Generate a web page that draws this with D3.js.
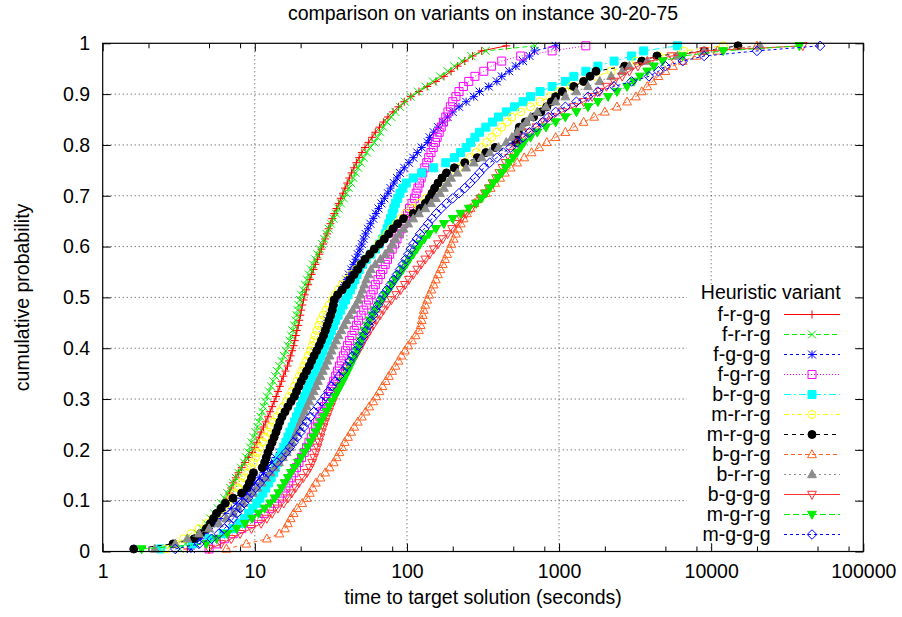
<!DOCTYPE html>
<html>
<head>
<meta charset="utf-8">
<script src="https://cdnjs.cloudflare.com/ajax/libs/d3/7.8.5/d3.min.js"></script>
<style>
  body { margin: 0; background: #fff; }
  text { font-family: "Liberation Sans", Arial, Helvetica, sans-serif; font-size: 19.5px; fill: #000; }
</style>
</head>
<body>
<div id="chart"></div>
<script>
// run times to target (seconds), 100 sorted readings per variant
var variants = ["f-r-g-g", "f-r-r-g", "f-g-g-g", "f-g-r-g", "b-r-g-g", "m-r-r-g",
  "m-r-g-g", "b-g-r-g", "b-r-r-g", "b-g-g-g", "m-g-r-g", "m-g-g-g"];

var tFRGG = [3.6, 3.9, 4.2, 4.5, 4.8, 5.1, 5.4, 5.7, 6.0, 6.3,
  6.6, 6.8, 7.0, 7.2, 7.5, 7.8, 8.2, 8.6, 9.1, 9.6,
  10.0, 10.3, 10.7, 11.0, 11.4, 11.8, 12.2, 12.6, 13.0, 13.4,
  13.8, 14.2, 14.6, 15.0, 15.4, 15.9, 16.4, 16.8, 17.2, 17.6,
  18.0, 18.3, 18.6, 18.9, 19.3, 19.6, 19.9, 20.2, 20.5, 20.9,
  21.3, 21.8, 22.4, 23.0, 23.6, 24.3, 25.0, 25.8, 26.6, 27.4,
  28.2, 29.0, 29.8, 30.6, 31.4, 32.3, 33.3, 34.4, 35.6, 36.8,
  38.0, 39.2, 40.5, 41.8, 43.2, 44.8, 46.5, 48.5, 50.5, 53.0,
  56, 59, 62, 66, 70, 75, 81, 88, 96, 106,
  120, 136, 155, 175, 195, 215, 240, 270, 310, 450];

var tFRRG = [3.2, 3.5, 3.9, 4.2, 4.5, 4.8, 5.1, 5.4, 5.7, 6.0,
  6.3, 6.6, 6.9, 7.2, 7.5, 7.8, 8.1, 8.5, 8.8, 9.1,
  9.3, 9.5, 9.8, 10.1, 10.4, 10.6, 10.9, 11.2, 11.4, 11.7,
  12.0, 12.4, 12.8, 13.2, 13.6, 14.0, 14.5, 15.0, 15.5, 16.0,
  16.5, 16.9, 17.3, 17.7, 18.1, 18.5, 18.8, 19.1, 19.4, 19.8,
  20.2, 20.8, 21.4, 22.0, 22.7, 23.4, 24.1, 24.9, 25.8, 26.7,
  27.6, 28.6, 29.6, 30.6, 31.7, 32.9, 34.1, 35.4, 36.8, 38.4,
  40.0, 41.5, 43.0, 44.5, 46.0, 47.8, 49.8, 52.0, 54.5, 57.5,
  61, 64, 67, 70, 74, 79, 84, 90, 97, 106,
  118, 132, 148, 165, 185, 205, 230, 265, 330, 695];

var tFGGG = [3.8, 4.1, 4.4, 4.7, 5.0, 5.4, 5.9, 6.4, 7.0, 7.6,
  8.2, 8.8, 9.4, 10.0, 10.7, 11.4, 12.1, 12.9, 13.7, 14.6,
  15.5, 16.3, 17.0, 17.7, 18.3, 18.9, 19.5, 20.0, 20.5, 21.0,
  21.5, 22.0, 22.5, 23.0, 23.5, 24.0, 24.6, 25.2, 25.8, 26.4,
  27.0, 27.6, 28.2, 28.8, 29.4, 30.0, 31.0, 32.0, 33.2, 34.5,
  35.5, 37.0, 38.5, 40.0, 41.5, 43.0, 44.5, 46.0, 47.5, 49.0,
  50.5, 52.0, 53.5, 55.5, 57.5, 60, 62.5, 65, 68, 71,
  75, 78, 82, 86, 90, 96, 103, 110, 117, 125,
  137, 141, 150, 160, 172, 185, 200, 220, 245, 275,
  300, 345, 390, 420, 470, 520, 580, 640, 690, 950];

var tFGRG = [5.0, 5.6, 6.3, 7.2, 8.2, 9.4, 10.5, 11.5, 12.5, 13.5,
  14.5, 15.3, 16.0, 16.7, 17.4, 18.1, 18.8, 19.5, 20.3, 21.1,
  21.9, 22.7, 23.5, 24.3, 25.1, 25.9, 26.8, 27.7, 28.6, 29.6,
  30.5, 31.4, 32.2, 33.0, 34.0, 35.0, 36.0, 37.0, 38.2, 39.4,
  40.6, 42.0, 43.5, 45.0, 46.5, 48.0, 50.0, 52.0, 54.0, 56.0,
  58, 60, 62, 64.5, 67, 69.5, 72, 74.5, 77, 80,
  83, 86, 89, 92, 95, 98, 101, 104, 108, 112,
  115, 118, 121, 124, 127, 131, 135, 139, 144, 149,
  154, 158, 163, 168, 174, 180, 186, 193, 200, 210,
  220, 235, 255, 280, 320, 360, 420, 560, 900, 1500];

var tBRGG = [2.4, 3.9, 5.0, 6.2, 7.2, 7.9, 8.5, 9.1, 9.7, 10.3,
  10.8, 11.3, 11.8, 12.3, 12.8, 13.3, 13.7, 14.1, 14.5, 15.0,
  15.5, 16.0, 16.5, 17.0, 17.6, 18.2, 18.8, 19.4, 20.0, 20.6,
  21.2, 21.9, 22.6, 23.3, 24.1, 24.9, 25.7, 26.5, 27.3, 28.1,
  29.0, 30.0, 31.0, 32.0, 33.0, 34.0, 35.3, 36.7, 38.0, 39.5,
  41, 42.5, 44, 45.5, 47, 48.5, 51, 54, 58, 62,
  66, 69, 72, 74, 76, 78, 80, 82, 84, 87,
  90, 94, 99, 110, 125, 150, 180, 205, 225, 245,
  262, 280, 300, 330, 365, 400, 450, 510, 580, 650,
  750, 900, 1100, 1250, 1500, 1800, 2300, 3000, 3600, 6000];

var tMRRG = [2.6, 3.0, 3.4, 3.8, 4.3, 4.8, 5.3, 5.8, 6.2, 6.6,
  7.0, 7.4, 7.8, 8.2, 8.6, 9.0, 9.4, 9.8, 10.1, 10.4,
  10.7, 11.2, 11.7, 12.2, 12.7, 13.3, 14.0, 14.7, 15.4, 16.1,
  16.8, 17.5, 18.2, 18.9, 19.6, 20.3, 21.0, 21.7, 22.4, 23.1,
  23.8, 24.4, 25.0, 25.7, 26.4, 27.2, 28.2, 29.4, 30.8, 32.3,
  33.8, 35.5, 37.5, 40, 43, 46, 49.5, 53, 57, 61,
  65, 69, 74, 79, 85, 91, 98, 108, 120, 133,
  146, 158, 170, 185, 200, 218, 238, 260, 285, 310,
  335, 360, 390, 420, 455, 490, 560, 650, 750, 870,
  1000, 1200, 1450, 1750, 2200, 2700, 3200, 4500, 6600, 12000];

var tMRGG = [1.6, 2.9, 4.0, 4.4, 4.8, 5.1, 5.35, 5.6, 6.0, 6.4,
  7.2, 8.2, 8.9, 9.2, 9.5, 9.8, 11.2, 11.6, 11.9, 12.2,
  12.6, 13.0, 13.4, 13.8, 14.2, 14.6, 15.1, 15.8, 16.5, 17.3,
  18.2, 18.8, 19.5, 20.2, 21.0, 21.9, 22.8, 23.6, 24.5, 25.5,
  26.5, 27.4, 28.3, 29.1, 29.9, 30.7, 31.5, 32.3, 32.8, 33.2,
  35.0, 37.5, 40.0, 42.5, 45.0, 47.5, 50.0, 53.0, 57.0, 61.0,
  66, 71, 76, 81, 87, 95, 110, 122, 132, 140,
  146, 152, 160, 170, 182, 205, 240, 290, 330, 380,
  520, 530, 540, 548, 600, 680, 760, 830, 890, 950,
  1050, 1250, 1450, 1600, 1750, 2700, 3500, 4400, 9000, 15000];

var tBGRG = [6.5, 8.8, 12.0, 14.5, 15.8, 16.5, 17.2, 18.0, 19.0, 20.5,
  22.0, 23.0, 24.0, 25.2, 27.0, 29.0, 31.0, 33.0, 34.5, 36.0,
  37.5, 39.0, 41.0, 43.0, 45.0, 47.5, 50.5, 53.5, 56.5, 60.0,
  63, 66, 69, 72.5, 76, 80, 84, 88, 92, 97,
  102, 108, 114, 120, 123, 125, 127, 129, 132, 136,
  140, 145, 150, 155, 160, 166, 172, 178, 184, 190,
  196, 203, 210, 218, 226, 236, 248, 262, 278, 296,
  330, 355, 380, 410, 440, 480, 530, 590, 660, 740,
  830, 950, 1100, 1250, 1450, 1700, 2000, 2400, 2800, 3200,
  3500, 3800, 4100, 4500, 5000, 5600, 6500, 8000, 11000, 20000];

var tBRRG = [2.2, 3.0, 3.6, 4.3, 5.0, 5.8, 6.5, 7.2, 7.8, 8.4,
  9.0, 9.7, 10.4, 11.1, 11.9, 12.7, 13.5, 14.4, 15.3, 16.2,
  17.0, 17.6, 18.2, 18.8, 19.4, 20.0, 20.6, 21.3, 22.0, 22.8,
  23.6, 24.4, 25.2, 26.0, 27.0, 28.0, 29.0, 30.0, 31.0, 32.0,
  33.0, 34.2, 35.5, 37.0, 38.5, 40.0, 42.0, 44.0, 46.0, 48.0,
  49.5, 51, 52.5, 54, 56, 58, 62, 67, 72, 77,
  80, 84, 89, 95, 102, 110, 120, 132, 144, 155,
  165, 175, 185, 195, 215, 245, 275, 310, 350, 400,
  450, 490, 530, 570, 610, 650, 720, 820, 950, 1100,
  1300, 1550, 1850, 2200, 2600, 2900, 3800, 6000, 9000, 21000];

var tBGGG = [5.0, 6.0, 7.0, 8.0, 9.5, 11.0, 12.0, 13.0, 14.2, 15.5,
  16.5, 17.5, 18.5, 19.5, 20.8, 22.0, 23.0, 23.8, 24.5, 25.2,
  25.8, 26.4, 27.0, 27.6, 28.3, 29.0, 29.8, 30.7, 31.6, 32.6,
  33.6, 34.8, 36.0, 37.2, 38.5, 40.0, 41.8, 43.8, 46.0, 48.0,
  50, 52, 54.5, 57, 60, 63, 66.5, 70, 74, 79,
  85, 91, 97, 103, 110, 117, 124, 132, 141, 150,
  160, 172, 185, 198, 212, 228, 245, 265, 285, 305,
  325, 345, 365, 385, 405, 425, 445, 470, 495, 520,
  540, 580, 640, 710, 800, 900, 1050, 1250, 1450, 1650,
  1850, 2050, 2300, 2600, 2900, 3300, 4000, 5500, 9000, 40000];

var tMGRG = [1.8, 4.8, 5.6, 6.6, 7.6, 8.6, 9.6, 10.6, 11.6, 12.6,
  13.5, 14.3, 15.0, 15.7, 16.5, 17.3, 18.2, 19.2, 20.2, 21.2,
  22.2, 23.2, 24.2, 25.2, 26.2, 27.2, 28.3, 29.5, 30.7, 32.0,
  33.5, 35.0, 36.5, 38.0, 39.5, 41.0, 42.5, 44.0, 45.5, 47.0,
  48.5, 50, 51.5, 53, 55, 57, 59.5, 62, 65, 68.5,
  72, 76, 80, 84, 89, 94, 99, 104, 110, 116,
  122, 130, 140, 155, 175, 200, 225, 255, 285, 310,
  330, 350, 370, 395, 420, 445, 470, 500, 530, 560,
  590, 650, 720, 820, 950, 1100, 1300, 1550, 1800, 2100,
  2400, 2800, 3100, 3400, 3800, 4200, 4800, 6500, 12000, 38000];

var tMGGG = [3.0, 4.3, 5.2, 5.8, 6.3, 6.8, 7.2, 7.6, 8.0, 8.5,
  9.0, 9.5, 10.1, 10.8, 11.5, 12.2, 13.0, 14.0, 15.0, 16.0,
  17.0, 18.0, 19.0, 20.0, 21.0, 22.0, 23.2, 24.5, 26.0, 27.5,
  29.0, 30.5, 32.0, 33.8, 35.8, 38.0, 40.0, 42.0, 44.0, 46.0,
  48.0, 50.0, 52.0, 54.0, 56.0, 58.0, 60.0, 62.0, 64.5, 67.0,
  70, 74, 78, 82, 86, 90, 94, 98, 102, 106,
  110, 116, 122, 130, 138, 146, 156, 168, 182, 200,
  220, 240, 260, 280, 300, 320, 350, 390, 430, 480,
  530, 580, 640, 710, 780, 850, 950, 1100, 1300, 1550,
  1800, 2300, 3000, 3900, 4500, 5000, 6500, 9000, 20000, 52000];

var runs = [tFRGG, tFRRG, tFGGG, tFGRG, tBRGG, tMRRG, tMRGG, tBGRG, tBRRG, tBGGG, tMGRG, tMGGG];

var xTickValues = [1, 10, 100, 1000, 10000, 100000];
var yTickValues = [0, 0.1, 0.2, 0.3, 0.4, 0.5, 0.6, 0.7, 0.8, 0.9, 1];

var titleText = "comparison on variants on instance 30-20-75";
var xLabel = "time to target solution (seconds)";
var yLabel = "cumulative probability";
var keyTitle = "Heuristic variant";

// line / point style of each variant (gnuplot look)
var styles = [
  { color: "#ff0000", dash: null, mark: "plus" },
  { color: "#00ee00", dash: "5,3", mark: "cross" },
  { color: "#0000ff", dash: "3,3", mark: "star" },
  { color: "#ff00ff", dash: "1,2", mark: "square" },
  { color: "#00ffff", dash: "7,3,2,3", mark: "square", fill: true },
  { color: "#ffff00", dash: "5,3,2,3", mark: "circle" },
  { color: "#000000", dash: "4,4", mark: "circle", fill: true },
  { color: "#ff6020", dash: "4,3", mark: "triUp" },
  { color: "#8c8c8c", dash: "2,3", mark: "triUp", fill: true },
  { color: "#ff3030", dash: null, mark: "triDown" },
  { color: "#00ee00", dash: "6,3", mark: "triDown", fill: true },
  { color: "#0000ff", dash: "3,3", mark: "diamond" }
];

var svgWidth = 902;
var svgHeight = 617;

var margin = {
  top: 43.3,
  right: 38.7,
  bottom: 65.5,
  left: 102.7
};

var width = svgWidth - margin.left - margin.right;
var height = svgHeight - margin.top - margin.bottom;

var svg = d3.select("#chart")
  .append("svg")
  .attr("width", svgWidth)
  .attr("height", svgHeight);

svg.append("rect")
  .attr("width", svgWidth)
  .attr("height", svgHeight)
  .attr("fill", "#fff");

var chartGroup = svg.append("g")
  .attr("transform", `translate(${margin.left}, ${margin.top})`);

var xLogScale = d3.scaleLog()
  .domain([1, 100000])
  .range([0, width]);

var yLinearScale = d3.scaleLinear()
  .domain([0, 1])
  .range([height, 0]);

// minor tics sit at 2, 5 and 8 of each decade
var xMinor = [];
xTickValues.slice(0, -1).forEach(function(d) {
  [2, 5, 8].forEach(function(m) { xMinor.push(d * m); });
});

function symbolPath(kind, h) {
  switch (kind) {
    case "plus":
      return `M${-h},0H${h}M0,${-h}V${h}`;
    case "cross":
      return `M${-h},${-h}L${h},${h}M${-h},${h}L${h},${-h}`;
    case "star":
      return `M${-h},0H${h}M0,${-h}V${h}M${-h},${-h}L${h},${h}M${-h},${h}L${h},${-h}`;
    case "square":
      return `M${-h},${-h}H${h}V${h}H${-h}Z`;
    case "circle":
      return `M${-h},0A${h},${h} 0 1,0 ${h},0A${h},${h} 0 1,0 ${-h},0Z`;
    case "triUp":
      return `M0,${-h * 1.2}L${h * 1.1},${h * 0.8}L${-h * 1.1},${h * 0.8}Z`;
    case "triDown":
      return `M0,${h * 1.2}L${h * 1.1},${-h * 0.8}L${-h * 1.1},${-h * 0.8}Z`;
    case "diamond":
      return `M0,${-h * 1.2}L${h * 1.2},0L0,${h * 1.2}L${-h * 1.2},0Z`;
  }
}

// grid
var grid = chartGroup.append("g")
  .attr("stroke", "#444")
  .attr("stroke-width", 1)
  .attr("stroke-dasharray", "1,3");

grid.selectAll("line.gx")
  .data(xTickValues.slice(1, -1))
  .enter()
  .append("line")
  .attr("x1", d => xLogScale(d))
  .attr("x2", d => xLogScale(d))
  .attr("y1", 0)
  .attr("y2", height);

grid.selectAll("line.gy")
  .data(yTickValues.slice(1, -1))
  .enter()
  .append("line")
  .attr("x1", 0)
  .attr("x2", width)
  .attr("y1", d => yLinearScale(d))
  .attr("y2", d => yLinearScale(d));

// key background
var keyLeft = 687 - margin.left;
chartGroup.append("rect")
  .attr("x", keyLeft)
  .attr("y", 284 - margin.top)
  .attr("width", width - keyLeft - 8)
  .attr("height", 259)
  .attr("fill", "#fff");

// axes
function cleanAxis(g) {
  g.select(".domain").remove();
  g.selectAll("line").attr("stroke", "#000");
}

chartGroup.append("g")
  .attr("transform", `translate(0, ${height})`)
  .call(d3.axisBottom(xLogScale).tickValues(xTickValues).tickSize(-8).tickPadding(13).tickFormat(d3.format("d")))
  .call(cleanAxis);

chartGroup.append("g")
  .attr("transform", `translate(0, ${height})`)
  .call(d3.axisBottom(xLogScale).tickValues(xMinor).tickSize(-5).tickFormat(""))
  .call(cleanAxis);

chartGroup.append("g")
  .call(d3.axisTop(xLogScale).tickValues(xTickValues).tickSize(-8).tickFormat(""))
  .call(cleanAxis);

chartGroup.append("g")
  .call(d3.axisTop(xLogScale).tickValues(xMinor).tickSize(-5).tickFormat(""))
  .call(cleanAxis);

chartGroup.append("g")
  .call(d3.axisLeft(yLinearScale).tickValues(yTickValues).tickSize(-8).tickPadding(12.5)
    .tickFormat(d => String(+d.toFixed(1))))
  .call(cleanAxis);

chartGroup.append("g")
  .attr("transform", `translate(${width}, 0)`)
  .call(d3.axisRight(yLinearScale).tickValues(yTickValues).tickSize(-8).tickFormat(""))
  .call(cleanAxis);

// series
var line = d3.line()
  .x(d => xLogScale(d.t))
  .y(d => yLinearScale(d.p));

runs.forEach(function(times, k) {
  var st = styles[k];
  var n = times.length;
  var pts = times.map(function(t, i) {
    return { t: t, p: (i + 0.5) / n };
  });

  var g = chartGroup.append("g").attr("class", "series");

  g.append("path")
    .datum(pts)
    .attr("d", line)
    .attr("fill", "none")
    .attr("stroke", st.color)
    .attr("stroke-width", 1)
    .attr("stroke-dasharray", st.dash);

  g.selectAll("path.pt")
    .data(pts)
    .enter()
    .append("path")
    .attr("class", "pt")
    .attr("transform", d => `translate(${xLogScale(d.t)}, ${yLinearScale(d.p)})`)
    .attr("d", symbolPath(st.mark, 4))
    .attr("fill", st.fill ? st.color : "none")
    .attr("stroke", st.color)
    .attr("stroke-width", 1);
});

// border
chartGroup.append("rect")
  .attr("width", width)
  .attr("height", height)
  .attr("fill", "none")
  .attr("stroke", "#000")
  .attr("stroke-width", 1.2);

// key
var keyTextX = 770.7 - margin.left;
var keyLineX1 = 784 - margin.left;
var keyLineX2 = 840 - margin.left;
var keyMarkX = 812 - margin.left;

chartGroup.append("text")
  .attr("x", keyTextX)
  .attr("y", 299 - margin.top)
  .attr("text-anchor", "middle")
  .text(keyTitle);

var keyRows = chartGroup.selectAll("g.key")
  .data(variants)
  .enter()
  .append("g")
  .attr("class", "key")
  .attr("transform", (d, i) => `translate(0, ${314.5 - margin.top + i * 20})`);

keyRows.append("text")
  .attr("x", keyTextX)
  .attr("y", 6.7)
  .attr("text-anchor", "end")
  .text(d => d);

keyRows.append("line")
  .attr("x1", keyLineX1)
  .attr("x2", keyLineX2)
  .attr("y1", 0)
  .attr("y2", 0)
  .attr("stroke", (d, i) => styles[i].color)
  .attr("stroke-dasharray", (d, i) => styles[i].dash);

keyRows.append("path")
  .attr("transform", `translate(${keyMarkX}, 0)`)
  .attr("d", (d, i) => symbolPath(styles[i].mark, 4))
  .attr("fill", (d, i) => styles[i].fill ? styles[i].color : "none")
  .attr("stroke", (d, i) => styles[i].color);

// titles
svg.append("text")
  .attr("x", margin.left + width / 2)
  .attr("y", 20)
  .attr("text-anchor", "middle")
  .text(titleText);

svg.append("text")
  .attr("x", margin.left + width / 2)
  .attr("y", 604)
  .attr("text-anchor", "middle")
  .text(xLabel);

svg.append("text")
  .attr("transform", `translate(28.5, ${margin.top + height / 2}) rotate(-90)`)
  .attr("text-anchor", "middle")
  .text(yLabel);
</script>
</body>
</html>
